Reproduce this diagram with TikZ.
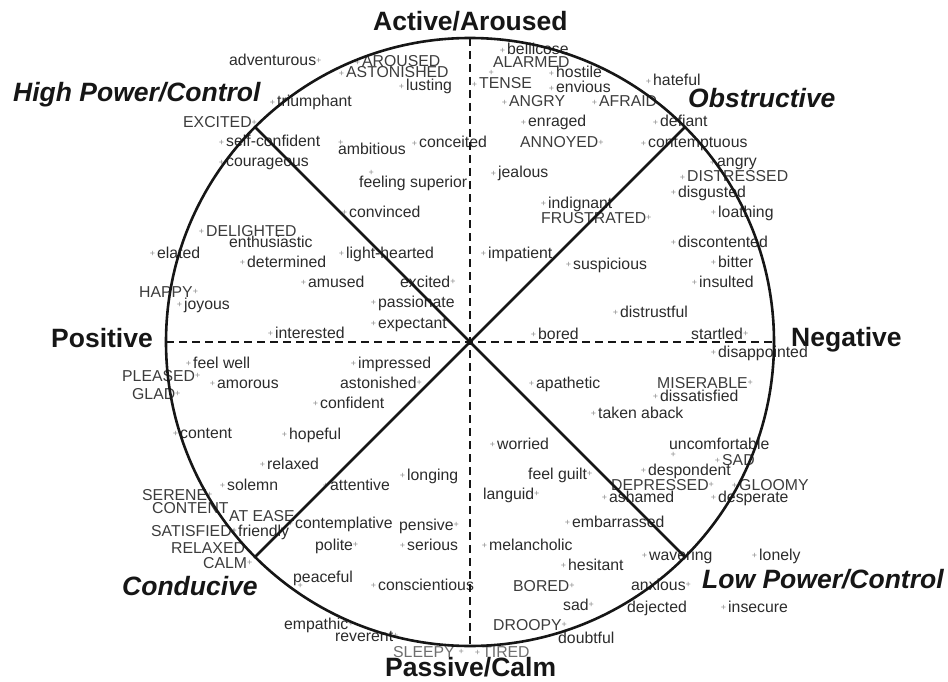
\documentclass[tikz,border=0pt]{standalone}
\usepackage{fontspec}
\setmainfont{Liberation Sans}
\usepackage{xcolor}
\definecolor{wordgray}{HTML}{2B2B2B}
\definecolor{capsgray}{HTML}{3C3C3C}
\definecolor{faintgray}{HTML}{6E6E6E}
\definecolor{plusgray}{HTML}{8C8C8C}
\definecolor{axisblack}{HTML}{161616}
\newcommand{\plusglyph}{\textcolor{plusgray}{\fontsize{9}{9}\selectfont +}}
\newcommand{\plusl}{\llap{\raisebox{1.8pt}{\plusglyph}\kern2pt}}
\newcommand{\plusr}{\raisebox{2.5pt}{\plusglyph}}
\newcommand{\plusat}[2]{\rlap{\kern#1\raisebox{#2}{\plusglyph}}}

\begin{document}
\begin{tikzpicture}[x=1pt,y=-1pt]
	\tikzstyle{word} = [anchor=base west,inner sep=0pt,text=wordgray,font=\fontsize{15.8}{18}\selectfont]
	\tikzstyle{caps} = [word,text=capsgray]
	\tikzstyle{faint} = [word,text=faintgray]
	\tikzstyle{axis} = [anchor=base west,inner sep=0pt,text=axisblack,font=\fontsize{26.5}{30}\selectfont\bfseries]
	\tikzstyle{region} = [axis,font=\fontsize{26.5}{30}\selectfont\bfseries\itshape]
	\tikzstyle{ring} = [line width=2.6pt,draw=axisblack]
	\tikzstyle{split} = [line width=2.3pt,draw=axisblack,dash pattern=on 8pt off 5pt]
	\useasboundingbox (0,0) rectangle (948,682);
	\coordinate (c) at (470,342);

	% dimension names
	\node[axis] (active) at (373,31) {Active/Aroused};
	\node[axis] (passive) at (385,676) {Passive/Calm};
	\node[axis] (positive) at (51,347) {Positive};
	\node[axis] (negative) at (791,346) {Negative};
	\node[region] (highpow) at (13,102) {High Power/Control};
	\node[region] (obstr) at (688,108) {Obstructive};
	\node[region] (conduc) at (122,595) {Conducive};
	\node[region] (lowpow) at (702,588) {Low Power/Control};

	% positive / active
	\node[word] (w1) at (229,66) {adventurous\plusr};
	\node[caps] (w2) at (362,67) {\plusl AROUSED};
	\node[caps] (w3) at (346,78) {\plusl ASTONISHED};
	\node[word] (w4) at (406,91) {\plusl lusting};
	\node[word] (w5) at (277,107) {\plusl triumphant};
	\node[caps] (w6) at (183,128) {EXCITED\plusr};
	\node[word] (w7) at (226,147) {\plusl self-confident};
	\node[word] (w8) at (226,167) {\plusl courageous};
	\node[word] (w9) at (338,154) {\plusat{0pt}{8.8pt}ambitious};
	\node[word] (w10) at (419,148) {\plusl conceited};
	\node[word] (w11) at (359,187) {\plusat{9.4pt}{11.8pt}feeling superior};
	\node[word] (w12) at (349,217) {\plusl convinced};
	\node[caps] (w13) at (206,236) {\plusl DELIGHTED};
	\node[word] (w14) at (229,247) {enthusiastic};
	\node[word] (w15) at (157,258) {\plusl elated};
	\node[word] (w16) at (346,258) {\plusl light-hearted};
	\node[word] (w17) at (247,267) {\plusl determined};
	\node[word] (w18) at (308,287) {\plusl amused};
	\node[word] (w19) at (400,287) {excited\plusr};
	\node[caps] (w20) at (139,297) {HAPPY\plusr};
	\node[word] (w21) at (378,307) {\plusl passionate};
	\node[word] (w22) at (184,309) {\plusl joyous};
	\node[word] (w23) at (378,328) {\plusl expectant};
	\node[word] (w24) at (275,338) {\plusl interested};

	% negative / active
	\node[word] (w25) at (507,55) {\plusl bellicose};
	\node[caps] (w26) at (493,68) {\plusat{-4.6pt}{-7.2pt}ALARMED};
	\node[word] (w27) at (556,78) {\plusl hostile};
	\node[caps] (w28) at (479,89) {\plusl TENSE};
	\node[word] (w29) at (556,93) {\plusl envious};
	\node[caps] (w30) at (509,107) {\plusl ANGRY};
	\node[caps] (w31) at (599,107) {\plusl AFRAID};
	\node[word] (w32) at (653,86) {\plusl hateful};
	\node[word] (w33) at (528,127) {\plusl enraged};
	\node[word] (w34) at (660,127) {\plusl defiant};
	\node[caps] (w35) at (520,148) {ANNOYED\plusr};
	\node[word] (w36) at (648,148) {\plusl contemptuous};
	\node[word] (w37) at (717,167) {\plusl angry};
	\node[word] (w38) at (498,178) {\plusl jealous};
	\node[caps] (w39) at (687,182) {\plusl DISTRESSED};
	\node[word] (w40) at (678,197) {\plusl disgusted};
	\node[word] (w41) at (548,208) {\plusl indignant};
	\node[word] (w42) at (718,217) {\plusl loathing};
	\node[caps] (w43) at (541,223) {FRUSTRATED\plusr};
	\node[word] (w44) at (678,247) {\plusl discontented};
	\node[word] (w45) at (488,258) {\plusl impatient};
	\node[word] (w46) at (718,267) {\plusl bitter};
	\node[word] (w47) at (573,269) {\plusl suspicious};
	\node[word] (w48) at (699,287) {\plusl insulted};
	\node[word] (w49) at (620,317) {\plusl distrustful};
	\node[word] (w50) at (538,339) {\plusl bored};
	\node[word] (w51) at (691,339) {startled\plusr};

	% negative / passive
	\node[word] (w52) at (718,357) {\plusl disappointed};
	\node[word] (w53) at (536,388) {\plusl apathetic};
	\node[caps] (w54) at (657,388) {MISERABLE\plusr};
	\node[word] (w55) at (660,401) {\plusl dissatisfied};
	\node[word] (w56) at (598,418) {\plusl taken aback};
	\node[word] (w57) at (497,449) {\plusl worried};
	\node[word] (w58) at (669,449) {\plusat{1.4pt}{-8.2pt}uncomfortable};
	\node[caps] (w59) at (722,465) {\plusl SAD};
	\node[word] (w60) at (648,475) {\plusl despondent};
	\node[word] (w61) at (528,479) {feel guilt\plusr};
	\node[caps] (w62) at (611,490) {DEPRESSED\plusr};
	\node[caps] (w63) at (739,490) {\plusl GLOOMY};
	\node[word] (w64) at (483,499) {languid\plusr};
	\node[word] (w65) at (609,502) {\plusl ashamed};
	\node[word] (w66) at (718,502) {\plusl desperate};
	\node[word] (w67) at (572,527) {\plusl embarrassed};
	\node[word] (w68) at (489,550) {\plusl melancholic};
	\node[word] (w69) at (649,560) {\plusl wavering};
	\node[word] (w70) at (759,560) {\plusl lonely};
	\node[word] (w71) at (568,570) {\plusl hesitant};
	\node[caps] (w72) at (513,591) {BORED\plusr};
	\node[word] (w73) at (631,590) {anxious\plusr};
	\node[word] (w74) at (563,610) {sad\plusr};
	\node[word] (w75) at (627,612) {dejected};
	\node[word] (w76) at (728,612) {\plusl insecure};
	\node[caps] (w77) at (493,630) {DROOPY\plusr};
	\node[word] (w78) at (558,643) {doubtful};
	\node[faint] (w79) at (482,657) {\plusl TIRED};

	% positive / passive
	\node[word] (w80) at (358,368) {\plusl impressed};
	\node[word] (w81) at (193,368) {\plusl feel well};
	\node[caps] (w82) at (122,381) {PLEASED\plusr};
	\node[word] (w83) at (340,388) {astonished\plusr};
	\node[word] (w84) at (217,388) {\plusl amorous};
	\node[caps] (w85) at (132,399) {GLAD\plusr};
	\node[word] (w86) at (320,408) {\plusl confident};
	\node[word] (w87) at (180,438) {\plusl content};
	\node[word] (w88) at (289,439) {\plusl hopeful};
	\node[word] (w89) at (267,469) {\plusl relaxed};
	\node[word] (w90) at (407,480) {\plusl longing};
	\node[word] (w91) at (227,490) {\plusl solemn};
	\node[word] (w92) at (330,490) {\plusl attentive};
	\node[caps] (w93) at (142,500) {SERENE\plusr};
	\node[caps] (w94) at (152,513) {CONTENT};
	\node[caps] (w95) at (229,521) {AT EASE};
	\node[word] (w96) at (295,528) {\plusl contemplative};
	\node[word] (w97) at (399,530) {pensive\plusr};
	\node[caps] (w98) at (151,536) {SATISFIED\plusr};
	\node[word] (w99) at (238,536) {\plusl friendly};
	\node[word] (w100) at (315,550) {polite\plusr};
	\node[word] (w101) at (407,550) {\plusl serious};
	\node[caps] (w102) at (171,553) {RELAXED};
	\node[caps] (w103) at (203,568) {CALM\plusr};
	\node[word] (w104) at (293,582) {\plusat{4.4pt}{-6.2pt}peaceful};
	\node[word] (w105) at (378,590) {\plusl conscientious};
	\node[word] (w106) at (284,629) {empathic\plusr};
	\node[word] (w107) at (335,641) {reverent\plusr};
	\node[faint] (w108) at (393,657) {SLEEPY\kern4pt\plusr};

	% circle and axes
	\draw[split] (c) ++(-304,0) -- ++(608,0);
	\draw[split] (c) ++(0,-304) -- ++(0,608);
	\draw[ring] (c) circle[radius=304pt];
	\draw[ring] (c) ++(-215,-215) -- ++(430,430);
	\draw[ring] (c) ++(215,-215) -- ++(-430,430);
\end{tikzpicture}
\end{document}
